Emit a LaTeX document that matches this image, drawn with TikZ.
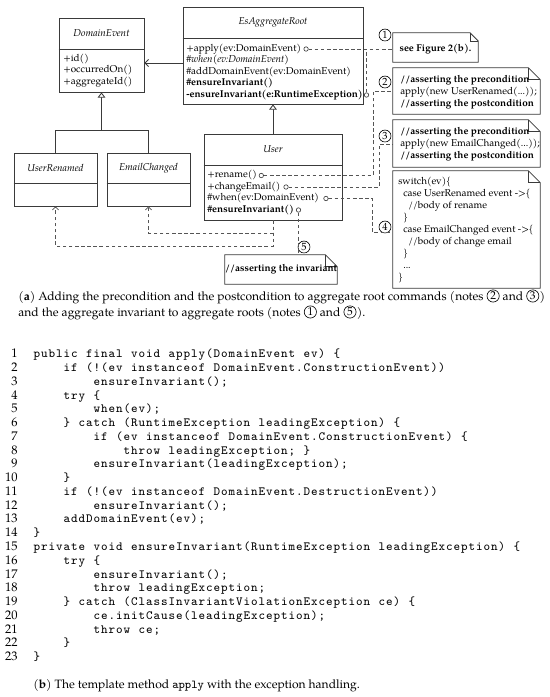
\documentclass[tikz,border=0pt]{standalone}
\usepackage{fontspec}
\setmainfont{TeX Gyre Pagella}
\usetikzlibrary{arrows.meta,positioning,fit}
\definecolor{boxc}{HTML}{3A3A3A}
\definecolor{dashc}{HTML}{555555}
\newcommand\fixw[1]{\fixwA#1\relax}
\def\fixwA#1{\ifx\relax#1\else\makebox[5.4pt][c]{#1}\expandafter\fixwA\fi}
\newcommand\noteframe[2][8.6pt]{%
  \draw[notec] (#2.south west) -- (#2.north west) -- ([xshift=-#1]#2.north east)
     -- ([yshift=-#1]#2.north east) -- (#2.south east) -- cycle;
  \draw[notec] ([xshift=-#1]#2.north east) |- ([yshift=-#1]#2.north east);}
\newcommand\cl[3]{\node[codeline] (L#1) at (33,#2) {\fixw{#3}};\node[lnum] (N#1) at (18,#2) {#1};}
\tikzset{
  umlbox/.style={draw=boxc, line width=0.6pt, inner sep=0pt},
  divline/.style={draw=boxc, line width=0.6pt},
  ttl/.style={font=\fontsize{7.15}{8.6}\selectfont\itshape, inner sep=0pt},
  mth/.style={font=\fontsize{7.15}{8.6}\selectfont, inner sep=0pt, anchor=west},
  balldot/.style={circle, draw=boxc, line width=0.45pt, inner sep=0pt, minimum size=3.2pt, fill=white},
  dep/.style={draw=dashc, line width=0.5pt, dash pattern=on 2.6pt off 1.8pt},
  deptip/.style={-{Straight Barb[length=2.2pt,width=4.4pt]}},
  gen/.style={draw=boxc, line width=0.6pt},
  gentip/.style={-{Triangle[open, length=3.8pt, width=5.6pt, fill=white]}},
  assoctip/.style={-{Straight Barb[length=2.6pt,width=5.2pt]}},
  notec/.style={draw=boxc, line width=0.6pt},
  ntxt/.style={font=\fontsize{7.15}{8.6}\selectfont, inner sep=0pt},
  nline/.style={font=\fontsize{7.15}{8.6}\selectfont, inner sep=0pt, anchor=base west},
  numc/.style={circle, draw=black, line width=0.45pt, inner sep=0pt, minimum size=8.6pt, font=\fontsize{7.5}{8}\selectfont},
  captxt/.style={font=\fontsize{8.7}{10.5}\selectfont, inner sep=0pt, anchor=base west},
  capnum/.style={circle, draw=black, line width=0.45pt, inner sep=0pt, minimum size=8.8pt, font=\fontsize{8.2}{9}\selectfont},
  codeline/.style={font=\ttfamily\fontsize{9}{10}\selectfont, inner sep=0pt, anchor=base west},
  lnum/.style={font=\fontsize{9}{10}\selectfont, inner sep=0pt, anchor=base east}
}
\begin{document}
\begin{tikzpicture}[x=0.72pt,y=-0.72pt]
\fill[white] (0,0) rectangle (550,697);
\useasboundingbox (0,0) rectangle (550,697);
% ---- classes
\node[umlbox, fit={(59,18)(144,92)}] (de) {};
\node[umlbox, fit={(183,7)(363,104)}] (es) {};
\node[umlbox, fit={(14,153)(97,206)}] (ur) {};
\node[umlbox, fit={(107,153)(190,206)}] (ec) {};
\node[umlbox, fit={(204,134)(342,220)}] (us) {};
\draw[divline] (de.west |- 0,49) -- (de.east |- 0,49);
\draw[divline] (es.west |- 0,38) -- (es.east |- 0,38);
\draw[divline] (ur.west |- 0,183) -- (ur.east |- 0,183);
\draw[divline] (ec.west |- 0,183) -- (ec.east |- 0,183);
\draw[divline] (us.west |- 0,165) -- (us.east |- 0,165);
\node[ttl] (deT) at (101.5,33.5) {DomainEvent};
\node[ttl] (esT) at (273,22.5) {EsAggregateRoot};
\node[ttl] (urT) at (55.5,168) {UserRenamed};
\node[ttl] (ecT) at (148.5,168) {EmailChanged};
\node[ttl] (usT) at (273,149.5) {User};
\node[mth] (de1) at (63,59) {+id()};
\node[mth] (de2) at (63,70.5) {+occurredOn()};
\node[mth] (de3) at (63,82) {+aggregateId()};
\node[mth] (es1) at (186,49) {+apply(ev:DomainEvent)};
\node[mth] (es2) at (186,60.5) {\itshape\#when(ev:DomainEvent)};
\node[mth] (es3) at (186,72) {\#addDomainEvent(ev:DomainEvent)};
\node[mth] (es4) at (186,83.5) {\bfseries\#ensureInvariant()};
\node[mth] (es5) at (186,95) {\bfseries-ensureInvariant(e:RuntimeException)};
\node[mth] (us1) at (207,175.5) {+rename()};
\node[mth] (us2) at (207,187) {+changeEmail()};
\node[mth] (us3) at (207,198.5) {\#when(ev:DomainEvent)};
\node[mth] (us4) at (207,210) {\bfseries\#ensureInvariant()};
\node[balldot, right=1.6pt of es1] (capp) {};
\node[balldot, right=0.6pt of es5] (cens) {};
\node[balldot, right=1.2pt of us1] (cren) {};
\node[balldot, right=2pt of us2] (cchg) {};
\node[balldot, right=3pt of us3] (cwhn) {};
\node[balldot, right=1.2pt of us4] (cinv) {};
% ---- class connectors
\draw[gen, assoctip] (es.west |- 0,63) -- (de.east |- 0,63);
\draw[gen, gentip] (de.south |- 0,130) -- (de.south);
\draw[gen] (ur.north) |- (ec.north |- 0,130) -- (ec.north);
\draw[gen, gentip] (us.north) -- (es.south);
\draw[dep, deptip] (us.south) |- (ec.south |- 0,233) -- (ec.south);
\draw[dep, deptip] (us.south) |- (ur.south |- 0,246) -- (ur.south);
% ---- notes
\node[fit={(393,33)(478,62)}, inner sep=0pt] (n1) {};
\node[fit={(393,68)(540,114)}, inner sep=0pt] (n2) {};
\node[fit={(393,120)(540,167)}, inner sep=0pt] (n3) {};
\node[fit={(393,171)(540,288)}, inner sep=0pt] (n4) {};
\node[fit={(225,255)(337,284)}, inner sep=0pt] (n5) {};
\noteframe[6pt]{n1}\noteframe{n2}\noteframe{n3}\noteframe{n4}\noteframe{n5}
\node[ntxt] (t1) at ([yshift=-0.8pt]n1.center) {\bfseries see Figure 2(b).};
\node[nline] (t2a) at (400,82) {\bfseries //asserting the precondition};
\node[nline] (t2b) at (400,94) {apply(new UserRenamed(...));};
\node[nline] (t2c) at (400,106) {\bfseries //asserting the postcondition};
\node[nline] (t3a) at (400,134.5) {\bfseries //asserting the precondition};
\node[nline] (t3b) at (400,146.5) {apply(new EmailChanged(...));};
\node[nline] (t3c) at (400,158.5) {\bfseries //asserting the postcondition};
\node[nline] (t4a) at (398,184) {switch(ev)\{};
\node[nline] (t4b) at (403,196.1) {case UserRenamed event ->\{};
\node[nline] (t4c) at (408,208.2) {//body of rename};
\node[nline] (t4d) at (403,220.3) {\}};
\node[nline] (t4e) at (403,232.4) {case EmailChanged event ->\{};
\node[nline] (t4f) at (408,244.5) {//body of change email};
\node[nline] (t4g) at (403,256.6) {\}};
\node[nline] (t4h) at (403,268.7) {...};
\node[nline] (t4i) at (398,280.8) {\}};
\node[ntxt] (t5) at (n5.center) {\bfseries //asserting the invariant};
\node[numc] (o1) at (385,35) {1};
\node[numc] (o2) at (385,82) {2};
\node[numc] (o3) at (385,136) {3};
\node[numc] (o4) at (385,227) {4};
\node[numc] (o5) at (304,247) {5};
% ---- note connectors
\coordinate (k2) at (373,91);
\coordinate (k3) at (379,144);
\coordinate (k4) at (372,232);
\draw[dep] (capp) -- (capp -| n1.west);
\draw[dep] (cens) -- (cens |- capp);
\draw[dep] (cren) -| (k2) -- (k2 -| n2.west);
\draw[dep] (cchg) -| (k3) -- (k3 -| n3.west);
\draw[dep] (cwhn) -| (k4) -- (k4 -| n4.west);
\draw[dep] (cinv) -- (cinv |- n5.north);
% ---- caption (a)
\node[captxt] (ca1) at (18,300) {(\textbf{a}) Adding the precondition and the postcondition to aggregate root commands (notes};
\node[capnum] (ca2) at ([xshift=6.7pt,yshift=2.9pt]ca1.base east) {2};
\node[captxt] (ca3) at ([xshift=6.7pt,yshift=-2.9pt]ca2.center) {and};
\node[capnum] (ca4) at ([xshift=6.7pt,yshift=2.9pt]ca3.base east) {3};
\node[captxt] (ca5) at ([xshift=4.7pt,yshift=-2.9pt]ca4.center) {)};
\node[captxt] (cb1) at (18,316) {and the aggregate invariant to aggregate roots (notes};
\node[capnum] (cb2) at ([xshift=6.7pt,yshift=2.9pt]cb1.base east) {1};
\node[captxt] (cb3) at ([xshift=6.7pt,yshift=-2.9pt]cb2.center) {and};
\node[capnum] (cb4) at ([xshift=6.7pt,yshift=2.9pt]cb3.base east) {5};
\node[captxt] (cb5) at ([xshift=4.7pt,yshift=-2.9pt]cb4.center) {).};
% ---- code
\cl{1}{357.7}{public~final~void~apply(DomainEvent~ev)~\{}
\cl{2}{371.5}{~~~~if~(!(ev~instanceof~DomainEvent.ConstructionEvent))}
\cl{3}{385.2}{~~~~~~~~ensureInvariant();}
\cl{4}{399.0}{~~~~try~\{}
\cl{5}{412.8}{~~~~~~~~when(ev);}
\cl{6}{426.6}{~~~~\}~catch~(RuntimeException~leadingException)~\{}
\cl{7}{440.3}{~~~~~~~~if~(ev~instanceof~DomainEvent.ConstructionEvent)~\{}
\cl{8}{454.1}{~~~~~~~~~~~~throw~leadingException;~\}}
\cl{9}{467.9}{~~~~~~~~ensureInvariant(leadingException);}
\cl{10}{481.6}{~~~~\}}
\cl{11}{495.4}{~~~~if~(!(ev~instanceof~DomainEvent.DestructionEvent))}
\cl{12}{509.2}{~~~~~~~~ensureInvariant();}
\cl{13}{522.9}{~~~~addDomainEvent(ev);}
\cl{14}{536.7}{\}}
\cl{15}{550.5}{private~void~ensureInvariant(RuntimeException~leadingException)~\{}
\cl{16}{564.3}{~~~~try~\{}
\cl{17}{578.0}{~~~~~~~~ensureInvariant();}
\cl{18}{591.8}{~~~~~~~~throw~leadingException;}
\cl{19}{605.6}{~~~~\}~catch~(ClassInvariantViolationException~ce)~\{}
\cl{20}{619.3}{~~~~~~~~ce.initCause(leadingException);}
\cl{21}{633.1}{~~~~~~~~throw~ce;}
\cl{22}{646.9}{~~~~\}}
\cl{23}{660.6}{\}}
% ---- caption (b)
\node[captxt] (cc) at (33,688) {(\textbf{b}) The template method \texttt{apply} with the exception handling.};
\end{tikzpicture}
\end{document}
